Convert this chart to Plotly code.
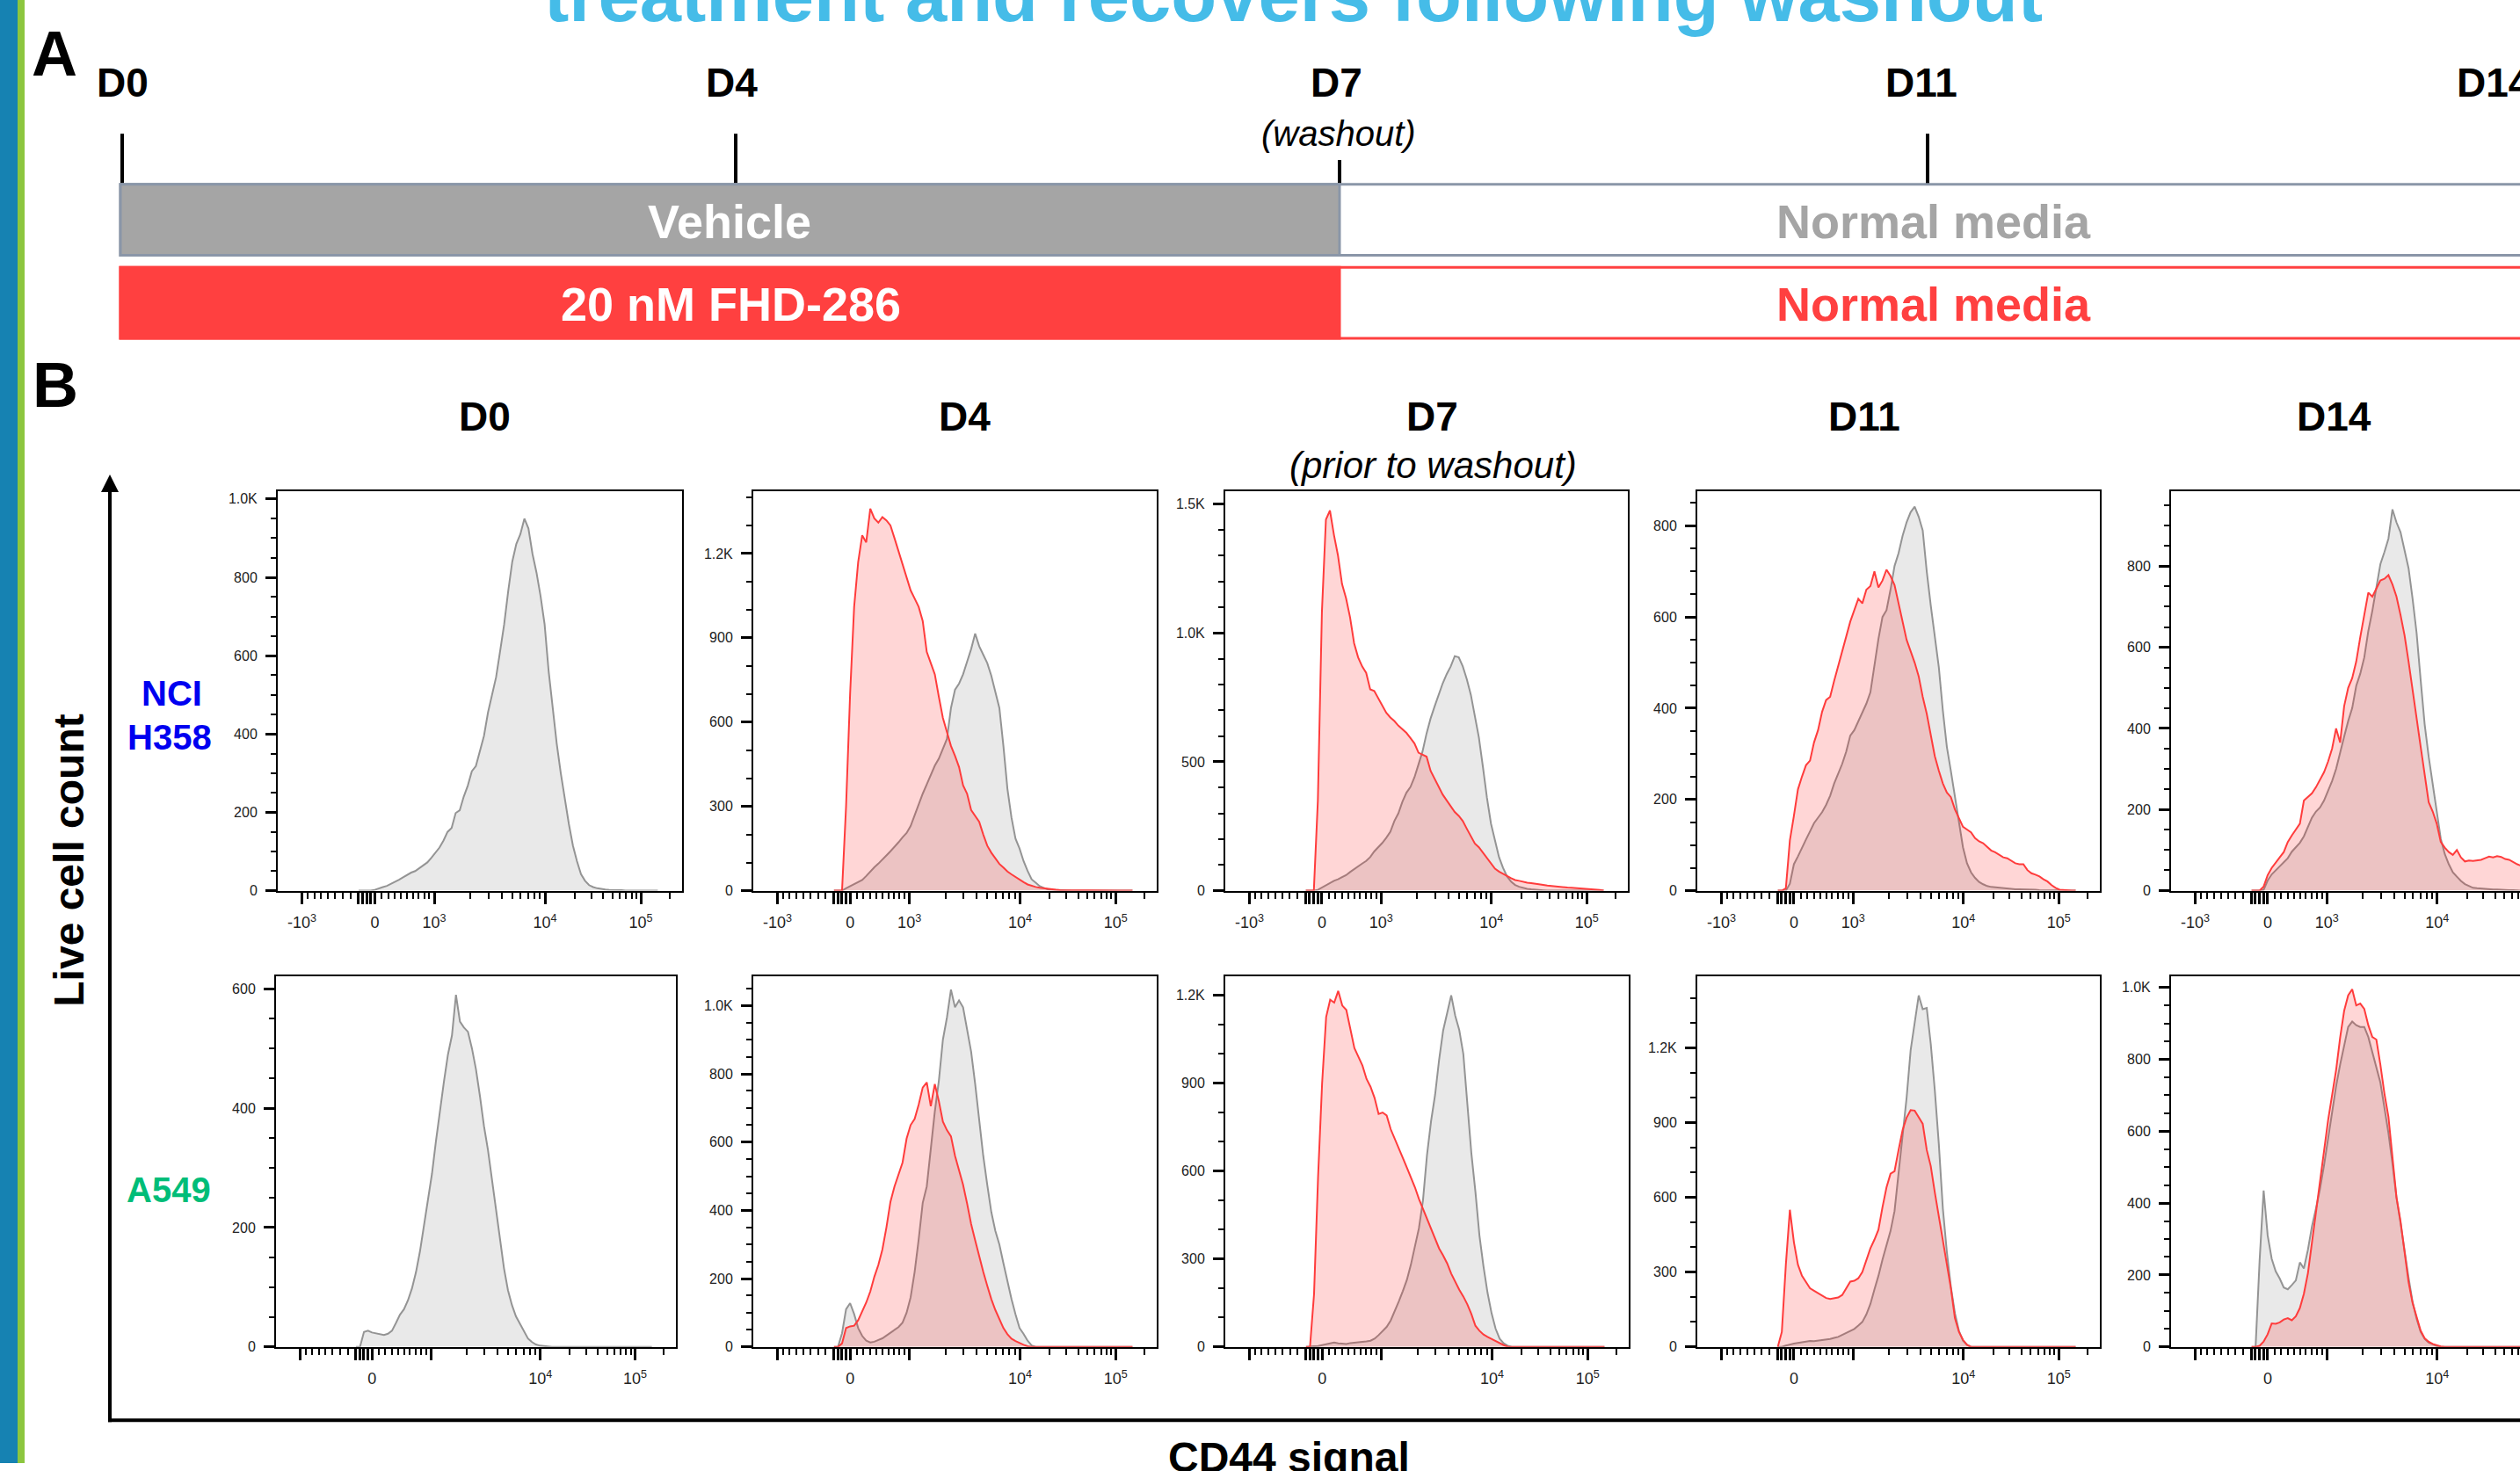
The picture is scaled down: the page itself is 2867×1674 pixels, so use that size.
import numpy as np
import plotly.graph_objects as go

W, H = 2867, 1674
FONT = "Liberation Sans, Arial, Helvetica, sans-serif"

# ---------------- data ----------------
# histogram bins on the CD44 display-channel scale (frame spans channel 0..1000)
BIN_CHANNELS = list(range(200, 941, 10))

# CD44 value -> display channel anchors (biexponential display of the cytometer)
AXIS_ANCHOR_VALUES = [-1000, 0, 1000, 2000, 10000, 20000, 100000, 200000]
AXIS_ANCHOR_CHANNELS = [60, 240, 387, 477, 661, 735, 898, 969]

X_MAJOR_VALUES = [-1000, -200, -150, -100, -50, 0, 1000, 10000, 100000]
X_LABELS_TOP = ["-10<sup>3</sup>", "", "", "", "", "0", "10<sup>3</sup>", "10<sup>4</sup>", "10<sup>5</sup>"]
X_LABELS_BOTTOM = ["", "", "", "", "", "0", "", "10<sup>4</sup>", "10<sup>5</sup>"]
X_MINOR_VALUES = [-900, -800, -700, -600, -500, -400, -300,
                  100, 200, 300, 400, 500, 600, 700, 800, 900,
                  2000, 3000, 4000, 5000, 6000, 7000, 8000, 9000,
                  20000, 30000, 40000, 50000, 60000, 70000, 80000, 90000, 200000]

DAYS = ["D0", "D4", "D7", "D11", "D14"]

# NCI-H358 (top row) -- live cell counts per bin
H358_D0_VEH = [0,0,0,0,2,6,9,12,17,22, 28,34,40,46,50,57,64,72,84,97, 110,128,150,160,198,205,240,268,305,318,
               360,395,455,500,545,612,680,765,840,885, 910,950,925,860,812,752,680,560,470,375,
               300,230,170,115,75,42,25,14,9,6, 4,3,2,2,1,1,0,0,0,0, 0,0,0,0,0]
H358_D4_VEH = [0,0,0,8,15,22,30,38,52,68, 83,96,112,125,140,155,172,190,205,230, 270,310,345,378,410,445,470,505,540,650,
               715,737,770,815,860,915,870,840,810,765, 710,650,515,362,260,185,150,105,70,40,
               28,16,10,5,3,2,1,0,0,0, 0,0,0,0,0,0,0,0,0,0, 0,0,0,0,0]
H358_D4_FHD = [0,0,0,300,700,1010,1170,1265,1240,1360, 1325,1310,1330,1318,1300,1255,1210,1160,1120,1069,
               1040,1010,960,850,810,770,690,615,565,515, 480,440,375,345,287,265,245,200,160,135,
               115,95,82,68,58,48,40,30,22,17, 13,10,8,5,3,3,2,2,1,1, 1,1,0,0,0,0,0,0,0,0, 0,0,0,0,0]
H358_D7_VEH = [0,0,0,3,12,22,30,38,44,52, 60,72,84,94,105,115,130,152,168,185, 205,228,270,300,345,380,402,440,490,540,
               610,668,715,760,804,840,870,910,905,870, 820,760,680,594,480,360,260,190,130,88,
               55,35,22,15,10,7,5,3,2,1, 0,0,0,0,0,0,0,0,0,0, 0,0,0,0,0]
H358_D7_FHD = [0,0,0,350,1080,1440,1475,1380,1300,1190, 1135,1060,960,905,870,845,781,775,745,715,
               690,672,658,640,625,612,592,571,535,528, 520,465,435,400,373,350,328,305,290,270,
               240,210,183,168,148,126,105,85,74,64, 57,48,41,38,34,31,29,26,24,22,
               20,18,16,15,14,12,11,10,9,7, 7,6,4,3,0]
H358_D11_VEH = [0,0,0,15,58,75,92,112,130,148, 160,172,188,208,235,256,278,305,340,352, 372,390,410,435,495,552,600,615,660,712,
                740,778,808,830,842,820,790,700,625,555, 490,395,315,262,205,145,95,60,40,28,
                19,14,10,8,7,6,5,4,4,3, 3,3,2,2,2,1,1,0,0,0, 0,0,0,0,0]
H358_D11_FHD = [0,0,5,110,164,222,250,275,285,325, 352,392,418,425,460,493,525,560,590,615,
                640,630,660,668,700,665,680,704,690,670, 630,590,550,525,500,470,425,388,340,295,
                263,235,215,205,178,158,140,134,128,115, 108,104,95,88,84,78,73,71,65,60,
                58,58,45,38,35,31,25,20,12,6, 2,1,0,0,0]
H358_D14_VEH = [0,0,0,2,25,40,49,60,70,80, 96,108,118,134,158,180,195,205,222,245, 270,300,342,380,418,450,505,535,575,640,
                690,750,805,835,868,940,908,884,842,795, 720,635,520,410,330,262,190,128,90,65,
                45,34,24,16,11,7,6,5,4,4, 3,3,2,2,1,1,0,0,0,0, 0,0,0,0,0]
H358_D14_FHD = [0,0,0,10,38,56,70,82,95,120, 136,150,165,222,230,240,255,272,292,318, 350,400,365,455,500,524,565,625,680,735,
                725,745,765,769,778,755,725,680,630,565, 490,425,355,285,218,195,165,120,106,95,
                88,100,82,72,74,73,75,76,80,84, 82,85,83,78,76,70,65,61,0,0, 0,0,0,0,0]

# A549 (bottom row)
A549_D0_VEH = [0,0,25,27,24,23,22,20,22,27, 40,54,63,78,98,125,160,205,245,290, 345,398,445,490,522,590,545,535,528,500,
               465,420,370,330,280,228,180,132,95,70, 51,38,25,14,8,4,2,1,0,0,
               0,0,0,0,0,0,0,0,0,0, 0,0,0,0,0,0,0,0,0,0, 0,0,0,0,0]
A549_D4_VEH = [0,0,40,110,128,96,55,32,18,13, 15,20,25,33,42,50,58,71,100,145, 220,315,422,470,580,690,780,900,965,1047,
               995,1015,995,935,865,770,666,560,475,395, 340,300,245,190,140,95,55,38,18,4,
               0,0,0,0,0,0,0,0,0,0, 0,0,0,0,0,0,0,0,0,0, 0,0,0,0,0]
A549_D4_FHD = [0,0,10,55,60,62,78,105,130,162, 205,240,285,350,425,470,505,540,610,650, 668,710,760,775,705,770,720,660,635,617,
               560,515,475,420,360,312,265,220,179,140, 108,82,55,37,24,17,11,6,2,0,
               0,0,0,0,0,0,0,0,0,0, 0,0,0,0,0,0,0,0,0,0, 0,0,0,0,0]
A549_D7_VEH = [0,0,2,3,5,9,12,15,12,10, 10,13,14,15,17,19,21,28,40,54, 68,90,120,155,190,228,280,340,405,500,
               655,770,860,980,1080,1140,1200,1130,1081,1000, 833,660,530,380,275,185,115,62,28,12,
               4,0,0,0,0,0,0,0,0,0, 0,0,0,0,0,0,0,0,0,0, 0,0,0,0,0]
A549_D7_FHD = [0,0,180,580,900,1126,1185,1175,1215,1165, 1150,1080,1020,990,960,915,888,850,795,800,
               790,743,712,680,645,612,580,545,505,470, 435,405,370,336,312,285,250,220,195,172,
               145,112,72,55,42,34,27,20,12,6, 1,0,0,0,0,0,0,0,0,0, 0,0,0,0,0,0,0,0,0,0, 0,0,0,0,0]
A549_D11_VEH = [0,0,5,10,13,16,18,22,24,23, 25,27,30,32,36,40,48,56,64,72, 85,100,130,172,230,285,350,412,465,545,
                700,841,1000,1190,1300,1410,1355,1360,1215,1030, 814,555,380,240,135,64,25,8,0,0,
                0,0,0,0,0,0,0,0,0,0, 0,0,0,0,0,0,0,0,0,0, 0,0,0,0,0]
A549_D11_FHD = [0,60,330,550,420,330,285,258,235,225, 215,205,196,192,194,198,208,235,262,265,
                275,300,350,395,430,470,560,640,695,705, 790,870,920,950,948,920,895,790,725,620,
                520,420,335,235,115,60,28,8,0,0, 0,0,0,0,0,0,0,0,0,0, 0,0,0,0,0,0,0,0,0,0, 0,0,0,0,0]
A549_D14_VEH = [0,0,240,435,310,245,210,190,165,160, 172,185,235,218,270,335,385,440,505,580,
                655,725,785,840,890,905,895,890,890,862, 820,780,735,665,595,510,416,345,265,193,
                125,78,42,22,12,6,2,0,0,0, 0,0,0,0,0,0,0,0,0,0, 0,0,0,0,0,0,0,0,0,0, 0,0,0,0,0]
A549_D14_FHD = [0,0,3,15,35,65,64,68,76,80, 74,85,108,148,205,290,368,450,545,630,
                700,770,860,935,978,995,950,955,940,895, 862,855,785,705,640,527,416,350,262,180,
                122,80,45,24,14,8,4,1,0,0, 0,0,0,0,0,0,0,0,0,0, 0,0,0,0,0,0,0,0,0,0, 0,0,0,0,0]

H358_VEHICLE = [H358_D0_VEH, H358_D4_VEH, H358_D7_VEH, H358_D11_VEH, H358_D14_VEH]
H358_FHD = [None, H358_D4_FHD, H358_D7_FHD, H358_D11_FHD, H358_D14_FHD]
A549_VEHICLE = [A549_D0_VEH, A549_D4_VEH, A549_D7_VEH, A549_D11_VEH, A549_D14_VEH]
A549_FHD = [None, A549_D4_FHD, A549_D7_FHD, A549_D11_FHD, A549_D14_FHD]

H358_Y_MAX = [1020, 1422, 1550, 876, 985]
H358_Y_TICKS = [[0, 200, 400, 600, 800, 1000], [0, 300, 600, 900, 1200], [0, 500, 1000, 1500],
                [0, 200, 400, 600, 800], [0, 200, 400, 600, 800]]
H358_Y_MINOR = [50, 100, 100, 50, 50]
A549_Y_MAX = [621, 1086, 1265, 1487, 1031]
A549_Y_TICKS = [[0, 200, 400, 600], [0, 200, 400, 600, 800, 1000], [0, 300, 600, 900, 1200],
                [0, 300, 600, 900, 1200], [0, 200, 400, 600, 800, 1000]]
A549_Y_MINOR = [50, 50, 100, 100, 50]

for s in H358_VEHICLE + A549_VEHICLE + H358_FHD[1:] + A549_FHD[1:]:
    assert len(s) == len(BIN_CHANNELS)

# ---------------- styles / layout ----------------
GRAY_LINE = "rgb(148,148,148)"
GRAY_FILL = "rgb(233,233,233)"
RED_LINE = "rgb(255,60,60)"
RED_FILL = "rgba(255,0,0,0.16)"

COLS_TOP = [(316, 776), (857, 1316), (1394, 1852), (1931, 2389), (2470, 2928)]
COLS_BOT = [(314, 769), (857, 1316), (1394, 1853), (1931, 2389), (2470, 2928)]
ROW_TOP = (562, 1019)
ROW_BOT = (1117, 1541)


def to_channel(v):
    u = np.arcsinh(np.asarray(v, float) / 1000.0)
    ua = np.arcsinh(np.asarray(AXIS_ANCHOR_VALUES, float) / 1000.0)
    return np.interp(u, ua, AXIS_ANCHOR_CHANNELS).tolist()


def k_label(v):
    return f"{v / 1000:.1f}K" if v >= 1000 else str(v)


fig = go.Figure()

rows = [
    dict(veh=H358_VEHICLE, fhd=H358_FHD, ymax=H358_Y_MAX, yt=H358_Y_TICKS, ym=H358_Y_MINOR,
         cols=COLS_TOP, ypx=ROW_TOP, xl=X_LABELS_TOP),
    dict(veh=A549_VEHICLE, fhd=A549_FHD, ymax=A549_Y_MAX, yt=A549_Y_TICKS, ym=A549_Y_MINOR,
         cols=COLS_BOT, ypx=ROW_BOT, xl=X_LABELS_BOTTOM),
]

major_ch = to_channel(X_MAJOR_VALUES)
minor_ch = to_channel(X_MINOR_VALUES)
tickfont = dict(family=FONT, size=16, color="#222")

k = 0
layout_upd = {}
for row in rows:
    for c in range(5):
        k += 1
        left, right = row["cols"][c]
        xend = min(right, W)
        xr = 1000.0 * (xend - left) / (right - left)
        y0, y1 = row["ypx"]
        xs = "" if k == 1 else str(k)
        fig.add_trace(go.Scatter(x=BIN_CHANNELS, y=row["veh"][c], xaxis="x" + xs, yaxis="y" + xs,
                                 mode="lines", line=dict(color=GRAY_LINE, width=2),
                                 fill="tozeroy", fillcolor=GRAY_FILL, hoverinfo="skip"))
        if row["fhd"][c] is not None:
            fig.add_trace(go.Scatter(x=BIN_CHANNELS, y=row["fhd"][c], xaxis="x" + xs, yaxis="y" + xs,
                                     mode="lines", line=dict(color=RED_LINE, width=2),
                                     fill="tozeroy", fillcolor=RED_FILL, hoverinfo="skip"))
        layout_upd["xaxis" + xs] = dict(
            domain=[left / W, xend / W], range=[0, xr], anchor="y" + xs,
            showline=True, mirror=True, linecolor="black", linewidth=2,
            ticks="outside", ticklen=13, tickwidth=3, tickcolor="black",
            tickmode="array", tickvals=major_ch, ticktext=row["xl"],
            tickfont=dict(family=FONT, size=18, color="#222"),
            ticklabelstandoff=6,
            showgrid=False, zeroline=False, fixedrange=True,
            minor=dict(tickmode="array", tickvals=minor_ch, ticks="outside", ticklen=7,
                       tickwidth=1.5, tickcolor="black", showgrid=False))
        ymax = row["ymax"][c]
        yt = row["yt"][c]
        ym = row["ym"][c]
        layout_upd["yaxis" + xs] = dict(
            domain=[1 - y1 / H, 1 - y0 / H], range=[0, ymax], anchor="x" + xs,
            showline=True, mirror=(right <= W), linecolor="black", linewidth=2,
            ticks="outside", ticklen=12, tickwidth=3, tickcolor="black",
            tickmode="array", tickvals=yt, ticktext=[k_label(v) for v in yt], tickfont=tickfont,
            ticklabelstandoff=6,
            showgrid=False, zeroline=False, fixedrange=True,
            minor=dict(tickmode="array", tickvals=[v for v in range(0, int(ymax) + 1, ym) if v not in yt],
                       ticks="outside", ticklen=6, tickwidth=1.5, tickcolor="black", showgrid=False))

fig.update_layout(**layout_upd)


def text(t, x, y, size, color="black", bold=True, italic=False, angle=0, xanchor="center"):
    s = t
    if bold:
        s = f"<b>{s}</b>"
    if italic:
        s = f"<i>{s}</i>"
    fig.add_annotation(x=x / W, y=1 - y / H, xref="paper", yref="paper", text=s, showarrow=False,
                       font=dict(family=FONT, size=size, color=color), xanchor=xanchor, yanchor="middle",
                       textangle=angle)


def rect(x0, y0, x1, y1, fill, line=None, lw=0):
    fig.add_shape(type="rect", xref="paper", yref="paper", x0=x0 / W, x1=x1 / W, y0=1 - y1 / H, y1=1 - y0 / H,
                  fillcolor=fill, line=dict(color=line or fill, width=lw), layer="above")


def vline(x, y0, y1, w, color="black"):
    fig.add_shape(type="line", xref="paper", yref="paper", x0=x / W, x1=x / W, y0=1 - y0 / H, y1=1 - y1 / H,
                  line=dict(color=color, width=w))


# left decorative stripes
rect(0, 0, 20, H, "#1682B2")
rect(20, 0, 28, H, "#8CC63F")

# title (cut off at the top)
text("treatment and recovers following washout", 1472, -6, 85, color="#45BCE8")

# panel A
text("A", 62, 61, 72)
TIMELINE_X = [139, 832, 1520, 2186, 2837]
for d, x in zip(DAYS, TIMELINE_X):
    text(d, x, 95, 46)
text("(washout)", 1523, 153, 40, bold=False, italic=True)
vline(139, 153, 211, 4)
vline(837, 153, 211, 4)
vline(1524, 183, 211, 4)
vline(2193, 153, 211, 4)

rect(137, 211, W + 30, 292, "white", "rgb(138,150,168)", 3)
rect(137, 211, 1524, 292, "#A5A5A5", "rgb(138,150,168)", 3)
rect(137, 306, W + 30, 387, "white", "#FF4040", 3)
rect(137, 306, 1524, 387, "#FF4040", "#FF4040", 3)
text("Vehicle", 830, 253, 54, color="white")
text("Normal media", 2200, 253, 54, color="#A5A5A5")
text("20 nM FHD-286", 831, 348, 54, color="white")
text("Normal media", 2200, 348, 54, color="#FF4040")

# panel B
text("B", 63, 440, 72)
PANEL_TITLE_X = [551, 1097, 1629, 2121, 2655]
for d, x in zip(DAYS, PANEL_TITLE_X):
    text(d, x, 477, 46)
text("(prior to washout)", 1631, 532, 42, bold=False, italic=True)
text("NCI", 195, 793, 40, color="rgb(0,0,240)")
text("H358", 193, 844, 40, color="rgb(0,0,240)")
text("A549", 192, 1361, 40, color="#00BD78")
text("Live cell count", 79, 985, 48, angle=-90)
text("CD44 signal", 1466, 1667, 48)

# outer axes with arrow
vline(125, 560, 1627, 4)
fig.add_shape(type="line", xref="paper", yref="paper", x0=123 / W, x1=(W + 20) / W, y0=1 - 1625 / H, y1=1 - 1625 / H,
              line=dict(color="black", width=4))
fig.add_annotation(x=125 / W, y=1 - 543 / H, xref="paper", yref="paper", text="", showarrow=True,
                   ax=0, ay=40, axref="pixel", ayref="pixel", arrowhead=2, arrowsize=1, arrowwidth=4,
                   arrowcolor="black", standoff=0, startstandoff=0)

fig.update_layout(width=W, height=H, autosize=False, showlegend=False,
                  margin=dict(l=0, r=0, t=0, b=0, pad=0),
                  paper_bgcolor="white", plot_bgcolor="white")

fig.write_html("out.html", config={"displayModeBar": False},
               post_script="document.body.style.margin='0';document.body.style.overflow='hidden';")
